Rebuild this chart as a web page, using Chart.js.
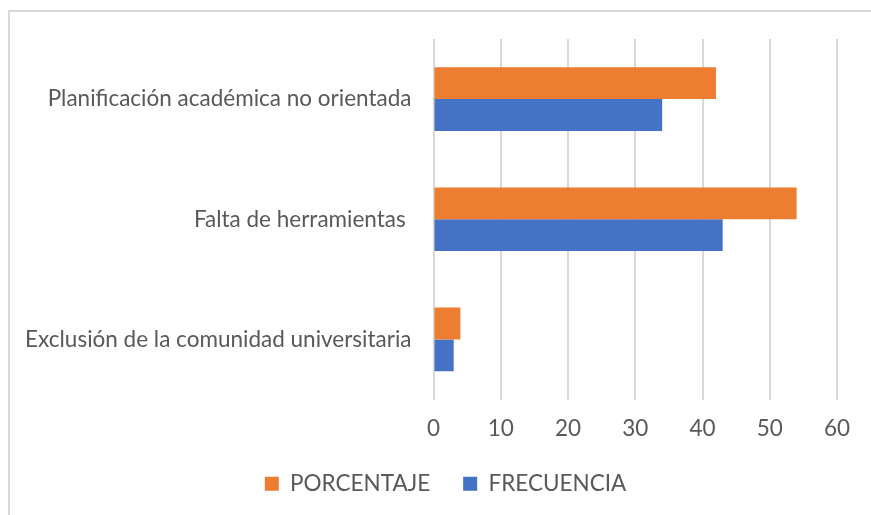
<!DOCTYPE html>
<html>
<head>
<meta charset="utf-8">
<script src="https://cdn.jsdelivr.net/npm/chart.js@4"></script>
<style>
  html, body { margin: 0; padding: 0; background: #fff; overflow: hidden; }
  #frame { position: absolute; left: 8px; top: 10px; width: 900px; height: 600px; border: 2px solid #d9d9d9; box-sizing: border-box; }
  #wrap { position: absolute; left: 0; top: 0; width: 871px; height: 515px; }
</style>
</head>
<body>
<div id="frame"></div>
<div id="wrap"><canvas id="barChart"></canvas></div>
<script>
var categories = ['Planificación académica no orientada', 'Falta de herramientas ', 'Exclusión de la comunidad universitaria'];
var porcentaje = [42, 54, 4];
var frecuencia = [34, 43, 3];
var xTicks = [0, 10, 20, 30, 40, 50, 60];

var textColor = '#595959';
var font = { family: "Lato, 'Liberation Sans', sans-serif", size: 22.5 };

// nudge the legend to the right, like the original
var legendShift = {
  id: 'legendShift',
  afterLayout: function (chart) {
    chart.legend.left += 19;
    chart.legend.right += 19;
  }
};

var ctx = document.getElementById('barChart').getContext('2d');
var barChart = new Chart(ctx, {
  type: 'bar',
  data: {
    labels: categories,
    datasets: [{
      label: 'PORCENTAJE',
      data: porcentaje,
      backgroundColor: '#ED7D31',
      borderWidth: 0
    }, {
      label: 'FRECUENCIA',
      data: frecuencia,
      backgroundColor: '#4472C4',
      borderWidth: 0
    }]
  },
  options: {
    indexAxis: 'y',
    responsive: true,
    maintainAspectRatio: false,
    animation: false,
    categoryPercentage: 0.53,
    barPercentage: 1,
    layout: { padding: { top: 39, left: 16, right: 34, bottom: 10 } },
    scales: {
      x: {
        min: xTicks[0],
        max: xTicks[xTicks.length - 1],
        afterBuildTicks: function (scale) {
          scale.ticks = xTicks.map(function (v) { return { value: v }; });
        },
        afterFit: function (scale) { scale.height = 40; },
        grid: { color: '#d9d9d9', lineWidth: 2, drawTicks: false },
        border: { display: false },
        ticks: { color: textColor, font: font, padding: 16 }
      },
      y: {
        afterFit: function (scale) { scale.width = 417.5; },
        grid: { display: false, drawTicks: false },
        border: { display: false },
        ticks: { color: textColor, font: font, padding: 22 }
      }
    },
    plugins: {
      legend: {
        position: 'bottom',
        labels: { color: textColor, font: font, boxWidth: 14, boxHeight: 14, padding: 33 }
      },
      tooltip: { enabled: false }
    }
  },
  plugins: [legendShift]
});
</script>
</body>
</html>
